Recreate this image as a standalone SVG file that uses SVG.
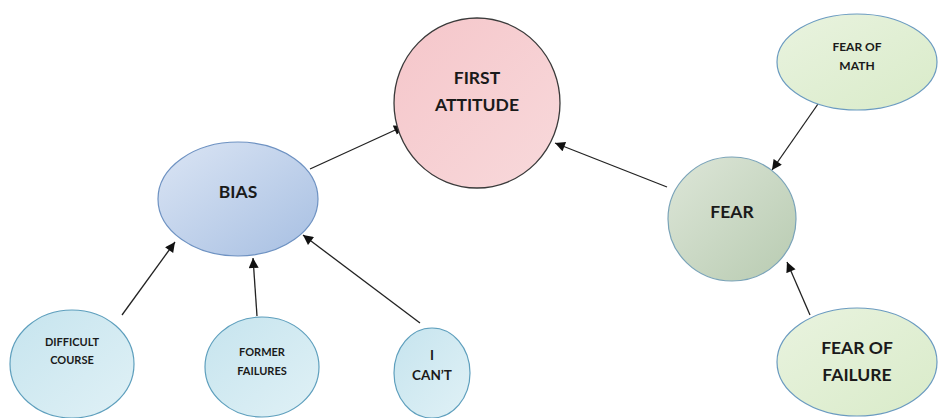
<svg xmlns="http://www.w3.org/2000/svg" width="940" height="418" viewBox="0 0 940 418">
<defs>
<linearGradient id="gPink" x1="0" y1="0" x2="1" y2="1"><stop offset="0" stop-color="#f5c6ca"/><stop offset="1" stop-color="#f8d9db"/></linearGradient>
<linearGradient id="gBias" x1="0" y1="0" x2="1" y2="1"><stop offset="0" stop-color="#dbe5f4"/><stop offset="1" stop-color="#a7bfe2"/></linearGradient>
<linearGradient id="gCyan" x1="0" y1="0" x2="1" y2="1"><stop offset="0" stop-color="#c6e4ee"/><stop offset="1" stop-color="#e0f1f6"/></linearGradient>
<linearGradient id="gFear" x1="0" y1="0" x2="1" y2="1"><stop offset="0" stop-color="#dde6d8"/><stop offset="1" stop-color="#b8cbb1"/></linearGradient>
<linearGradient id="gLight" x1="0" y1="0" x2="1" y2="1"><stop offset="0" stop-color="#e9f3df"/><stop offset="1" stop-color="#d9ebc9"/></linearGradient>
<marker id="ah" viewBox="0 0 10 10" refX="10" refY="5" markerWidth="11" markerHeight="10" markerUnits="userSpaceOnUse" orient="auto"><path d="M0,0 L10,5 L0,10 z" fill="#111"/></marker>
</defs>
<style>
text{font-family:Lato,"Open Sans","Liberation Sans",sans-serif;font-weight:bold;fill:#1a1a1a;text-anchor:middle}
.big{font-size:17.5px}
.sm{font-size:11px}
.md{font-size:12px}
.ic{font-size:13.5px}
.cn{stroke:#5e9fbd;stroke-width:1.2}
.ln{stroke:#222;stroke-width:1.3;fill:none;marker-end:url(#ah)}
</style>
<g id="connectors">
<line class="ln" x1="310" y1="169" x2="404" y2="126"/>
<line class="ln" x1="667" y1="187" x2="555" y2="143"/>
<line class="ln" x1="122" y1="315" x2="175" y2="242"/>
<line class="ln" x1="257" y1="316" x2="253" y2="258"/>
<line class="ln" x1="420" y1="323" x2="303" y2="235"/>
<line class="ln" x1="818" y1="104" x2="772" y2="170"/>
<line class="ln" x1="810" y1="315" x2="787" y2="262"/>
</g>
<g id="first-attitude">
<ellipse cx="477" cy="103" rx="83" ry="85" fill="url(#gPink)" stroke="#3a3a3a" stroke-width="1.3"/>
<text class="big" x="477" y="84">FIRST</text>
<text class="big" x="477" y="111">ATTITUDE</text>
</g>
<g id="bias">
<ellipse cx="238" cy="199" rx="80" ry="57" fill="url(#gBias)" stroke="#6e92c2" stroke-width="1.2"/>
<text class="big" x="238" y="198">BIAS</text>
</g>
<g id="difficult-course">
<ellipse cx="72" cy="364" rx="62" ry="54" fill="url(#gCyan)" class="cn"/>
<text class="sm" x="72" y="346">DIFFICULT</text>
<text class="sm" x="72" y="364">COURSE</text>
</g>
<g id="former-failures">
<ellipse cx="262" cy="367" rx="57" ry="50" fill="url(#gCyan)" class="cn"/>
<text class="sm" x="262" y="356">FORMER</text>
<text class="sm" x="262" y="375">FAILURES</text>
</g>
<g id="i-cant">
<ellipse cx="432" cy="373" rx="38" ry="45" fill="url(#gCyan)" class="cn"/>
<text class="ic" x="432" y="360">I</text>
<text class="ic" x="432" y="380">CAN’T</text>
</g>
<g id="fear">
<ellipse cx="732" cy="219" rx="64" ry="62" fill="url(#gFear)" stroke="#7aa3b8" stroke-width="1.2"/>
<text class="big" x="732" y="218">FEAR</text>
</g>
<g id="fear-of-math">
<ellipse cx="857" cy="62" rx="80" ry="48" fill="url(#gLight)" stroke="#6b9bc0" stroke-width="1.2"/>
<text class="md" x="857" y="51">FEAR OF</text>
<text class="md" x="857" y="70">MATH</text>
</g>
<g id="fear-of-failure">
<ellipse cx="857" cy="362" rx="80" ry="54" fill="url(#gLight)" stroke="#6b9bc0" stroke-width="1.2"/>
<text class="big" x="857" y="354">FEAR OF</text>
<text class="big" x="857" y="381">FAILURE</text>
</g>
</svg>
